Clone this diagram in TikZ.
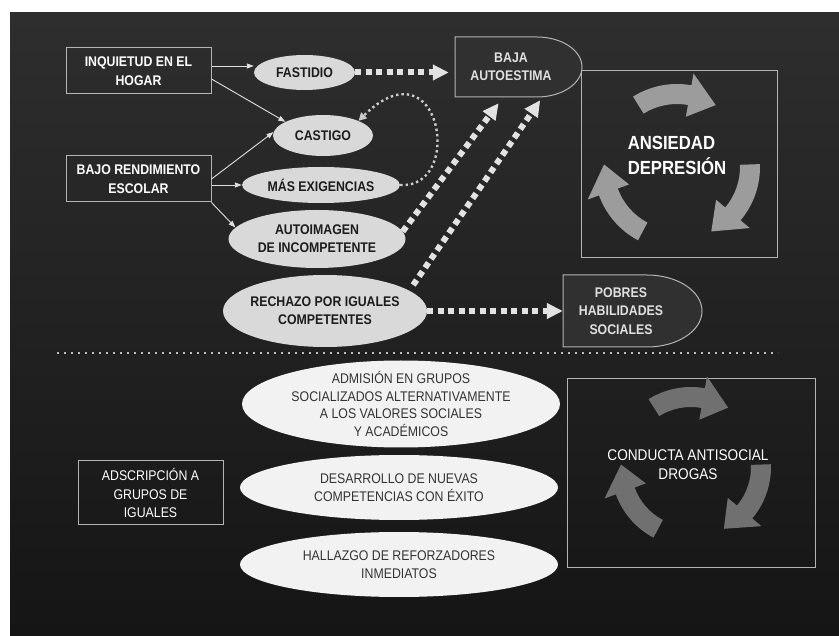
\documentclass[tikz,border=0pt]{standalone}
\usepackage{fontspec}
\setmainfont{Liberation Sans}[FakeStretch=0.88]
\usetikzlibrary{shapes.geometric,arrows.meta,calc}

\definecolor{bgtop}{HTML}{2E2E2E}
\definecolor{bgbot}{HTML}{151515}
\definecolor{edge}{HTML}{B4B4B4}
\definecolor{ellfill}{HTML}{D9D9D9}
\definecolor{ink}{HTML}{1C1C1C}
\definecolor{dots}{HTML}{E2E2E2}
\definecolor{cycup}{HTML}{9C9C9C}
\definecolor{cyclow}{HTML}{707070}
\definecolor{tagfill}{HTML}{303030}

% curved block arrow running clockwise from angle #1 to its tip at #2, radius #3
\newcommand\cycarrow[3]{%
  \fill ({#1}:{#3+10}) arc[start angle={#1}, end angle={#2+22}, radius={#3+10}]
    -- ({#2+22}:{#3+22}) -- ({#2}:{#3}) -- ({#2+22}:{#3-22})
    -- ({#2+22}:{#3-10}) arc[start angle={#2+22}, end angle={#1}, radius={#3-10}]
    -- cycle;}

\tikzset{
  ibox/.style={draw=edge, line width=1pt, text=white,
    font=\bfseries\fontsize{14}{19}\selectfont, align=center,
    inner sep=0pt, minimum width=145pt, minimum height=46pt},
  oval/.style={ellipse, fill=ellfill, text=ink,
    font=\bfseries\fontsize{14}{18}\selectfont, align=center, inner sep=-4pt},
  woval/.style={ellipse, fill=white!95!black, text=black!80,
    font=\fontsize{14}{17.7}\selectfont, align=center, inner sep=-4pt,
    minimum width=318pt},
  tag/.style={text=black!12, font=\bfseries\fontsize{14}{18.3}\selectfont,
    align=center, inner sep=0pt},
  tagline/.style={draw=edge, fill=tagfill, line width=1pt},
  linearrow/.style={draw=black!12, line width=0.9pt,
    -{Triangle[length=7pt,width=5pt]}},
  bigdots/.style={draw=dots, line width=6pt, dash pattern=on 6pt off 4.5pt,
    -{Triangle[length=16pt,width=15pt]}},
  finedots/.style={draw=black!20, line width=2.4pt,
    dash pattern=on 2.4pt off 3pt, -{Triangle[length=8pt,width=8pt]}},
  cyclebox/.style={draw=edge, line width=1pt, inner sep=0pt},
}

\begin{document}
\begin{tikzpicture}[x=1pt, y=-1pt]
\useasboundingbox (0,0) rectangle (839,636);
\fill[white] (0,0) rectangle (839,636);
\shade[top color=bgtop, bottom color=bgbot] (10,13) rectangle (839,636);

% causes
\node[ibox] (inq) at (138.5,71) {INQUIETUD EN EL\\HOGAR};
\node[ibox] (bajo) at (138.5,179) {BAJO RENDIMIENTO\\ESCOLAR};

% consequences
\node[oval, minimum width=101pt, minimum height=35pt] (fast) at (304.5,72.5) {FASTIDIO};
\node[oval, minimum width=100pt, minimum height=41pt] (cast) at (323,135.5) {CASTIGO};
\node[oval, minimum width=158pt, minimum height=36pt] (mas) at (321,185) {MÁS EXIGENCIAS};
\node[oval, minimum width=177pt, minimum height=58pt] (aut) at (317,239) {AUTOIMAGEN\\DE INCOMPETENTE};
\node[oval, minimum width=204pt, minimum height=72pt] (rech) at (325,311) {RECHAZO POR IGUALES\\COMPETENTES};

% rounded tags
\draw[tagline] (455,37) -- ++(82,0) arc[start angle=-90, end angle=90, x radius=45, y radius=30] -- ++(-82,0) -- cycle;
\node[tag, minimum width=112pt, minimum height=60pt] (baja) at (511,67) {BAJA\\AUTOESTIMA};
\draw[tagline] (563,275) -- ++(84,0) arc[start angle=-90, end angle=90, x radius=55, y radius=36] -- ++(-84,0) -- cycle;
\node[tag, minimum width=116pt, minimum height=72pt] (pob) at (621,311) {POBRES\\HABILIDADES\\SOCIALES};

% anxiety cycle
\node[cyclebox, minimum width=196pt, minimum height=187pt] (ansbox) at (679,164.5) {};
\begin{scope}[shift={(677,167)}, yscale=-1, color=cycup]
  \cycarrow{122}{58}{73}
  \cycarrow{2}{-62}{73}
  \cycarrow{-118}{-182}{73}
\end{scope}
\node[text=white, font=\bfseries\fontsize{19}{25}\selectfont, align=left] (ans) at (677,155) {ANSIEDAD\\DEPRESIÓN};

% connectors, upper half
\draw[linearrow] ([yshift=5pt]inq.east) -- ([yshift=5pt]inq.east -| fast.west);
\draw[linearrow] ([yshift=-8pt]inq.east) -- (cast.160);
\draw[linearrow] (bajo.east) -- (cast.176);
\draw[linearrow] ([yshift=-6pt]bajo.east) -- (mas.west);
\draw[linearrow] (bajo.south east) -- (aut.172);

\draw[bigdots, shorten >=6pt] (fast.east) -- (fast.east -| baja.west);
\draw[bigdots] (aut.5) -- ($(baja.south west)!.39!(baja.south east)+(0,6)$);
\draw[bigdots] ($(rech.east)+(-14,-26)$) -- ($(baja.south west)!.76!(baja.south east)+(0,3)$);
\draw[bigdots] (rech.east) -- (pob.west);
\draw[finedots] (mas.east) .. controls +(65,4) and +(82,-81) .. (cast.north east);

% separator
\draw[draw=black!25, line width=2pt, dash pattern=on 2pt off 5pt] (57,353) -- (778,353);

% lower half
\node[ibox, font=\fontsize{14}{18.3}\selectfont, minimum height=64pt] (ads) at (150.5,493) {ADSCRIPCIÓN A\\GRUPOS DE\\IGUALES};
\node[woval, minimum height=87pt] (adm) at (401,404) {ADMISIÓN EN GRUPOS\\SOCIALIZADOS ALTERNATIVAMENTE\\A LOS VALORES SOCIALES\\Y ACADÉMICOS};
\node[woval, minimum height=65pt] (des) at (399,487.5) {DESARROLLO DE NUEVAS\\COMPETENCIAS CON ÉXITO};
\node[woval, minimum height=65pt] (hal) at (399,564.5) {HALLAZGO DE REFORZADORES\\INMEDIATOS};

\node[cyclebox, minimum width=248pt, minimum height=188pt] (conbox) at (691,473) {};
\begin{scope}[shift={(691,467)}, yscale=-1, color=cyclow]
  \cycarrow{122}{58}{70}
  \cycarrow{2}{-62}{70}
  \cycarrow{-118}{-182}{70}
\end{scope}
\node[text=white, font=\fontsize{15.5}{19}\selectfont, align=center] (con) at (688,465) {CONDUCTA ANTISOCIAL\\DROGAS};
\end{tikzpicture}
\end{document}
